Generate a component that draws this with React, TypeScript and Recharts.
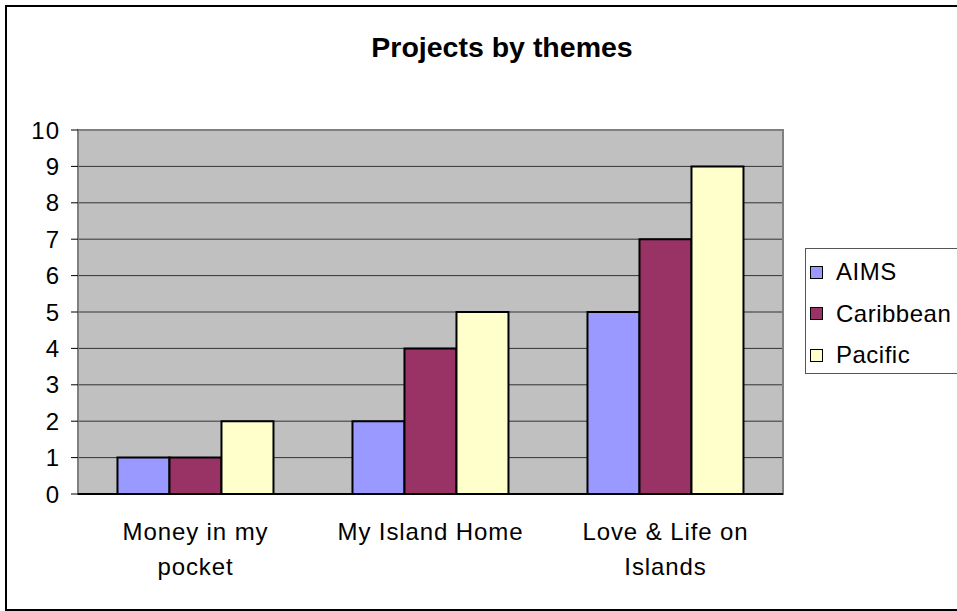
import React from 'react';
import { BarChart, Bar, XAxis, YAxis, CartesianGrid, ReferenceArea } from 'recharts';

// '\n' marks where the label breaks onto a second line
const themes = ['Money in my\npocket', 'My Island Home', 'Love & Life on\nIslands'];
const aims = [1, 2, 5];
const caribbean = [1, 4, 7];
const pacific = [2, 5, 9];
const yTicks = [0, 1, 2, 3, 4, 5, 6, 7, 8, 9, 10];
const edgeTicks = [0, 1, 2, 3];

const series = [
  { name: 'AIMS', values: aims, color: '#9999FF' },
  { name: 'Caribbean', values: caribbean, color: '#993366' },
  { name: 'Pacific', values: pacific, color: '#FFFFCC' },
];

const font = '"Liberation Sans", Arial, sans-serif';

const chartData = themes.map((theme, i) => {
  const row: Record<string, string | number> = { theme };
  series.forEach(s => { row[s.name] = s.values[i]; });
  return row;
});

const CategoryTick: React.FC<any> = ({ x, y, payload }) => {
  const lines = String(payload.value).split('\n');
  return (
    <text x={x} y={y} textAnchor="middle" fill="#000" style={{ fontSize: 24, fontFamily: font, letterSpacing: 0.9 }}>
      {lines.map((line, i) => (
        <tspan key={i} x={x} dy={i === 0 ? 17 : 35}>{line}</tspan>
      ))}
    </text>
  );
};

export default function App() {
  return (
    <div style={{ position: 'absolute', left: 0, top: 0, width: 957, height: 611, overflow: 'hidden', background: '#fff', fontFamily: font }}>
      <div style={{ position: 'absolute', left: 5, top: 5, width: 1000, height: 602, border: '2px solid #000' }} />
      <div style={{ position: 'absolute', left: 0, width: 1004, top: 31, textAlign: 'center', fontSize: 28.5, fontWeight: 'bold', color: '#000' }}>
        Projects by themes
      </div>
      <div style={{ position: 'absolute', left: 0, top: 0 }}>
        <BarChart
          width={957}
          height={611}
          data={chartData}
          margin={{ top: 130, right: 174, left: 0, bottom: 0 }}
          barCategoryGap="16.8%"
          barGap={0}
        >
          <CartesianGrid vertical={false} fill="#C0C0C0" stroke="#333" strokeOpacity={1} />
          <XAxis
            xAxisId="edges"
            type="number"
            domain={[0, 3]}
            ticks={edgeTicks}
            tick={false}
            tickLine={{ stroke: '#000', strokeWidth: 1 }}
            tickSize={8}
            axisLine={false}
            height={0}
          />
          <XAxis
            dataKey="theme"
            tick={<CategoryTick />}
            tickLine={false}
            tickSize={0}
            tickMargin={29}
            axisLine={{ stroke: '#000', strokeWidth: 2 }}
            height={117}
            interval={0}
          />
          <YAxis
            domain={[0, 10]}
            ticks={yTicks}
            interval={0}
            width={78}
            tickSize={7}
            tickMargin={11}
            axisLine={false}
            tickLine={{ stroke: '#000' }}
            tick={{ fill: '#000', fontSize: 24, fontFamily: font, letterSpacing: 1 }}
          />
          <ReferenceArea y1={0} y2={10} fill="none" stroke="#808080" strokeWidth={2} ifOverflow="visible" />
          {series.map(s => (
            <Bar key={s.name} dataKey={s.name} fill={s.color} stroke="#000" strokeWidth={2} isAnimationActive={false} />
          ))}
        </BarChart>
      </div>
      <div style={{ position: 'absolute', left: 805, top: 248, width: 160, height: 126, border: '1px solid #555', background: '#fff', boxSizing: 'border-box' }}>
        {series.map((s, i) => (
          <div key={s.name} style={{ position: 'absolute', left: 4, top: 9 + i * 41.5, height: 28, display: 'flex', alignItems: 'center', fontSize: 24, letterSpacing: 0.5, color: '#000' }}>
            <span style={{ display: 'inline-block', width: 11, height: 11, background: s.color, border: '1px solid #000', marginRight: 13 }} />
            {s.name}
          </div>
        ))}
      </div>
    </div>
  );
}
